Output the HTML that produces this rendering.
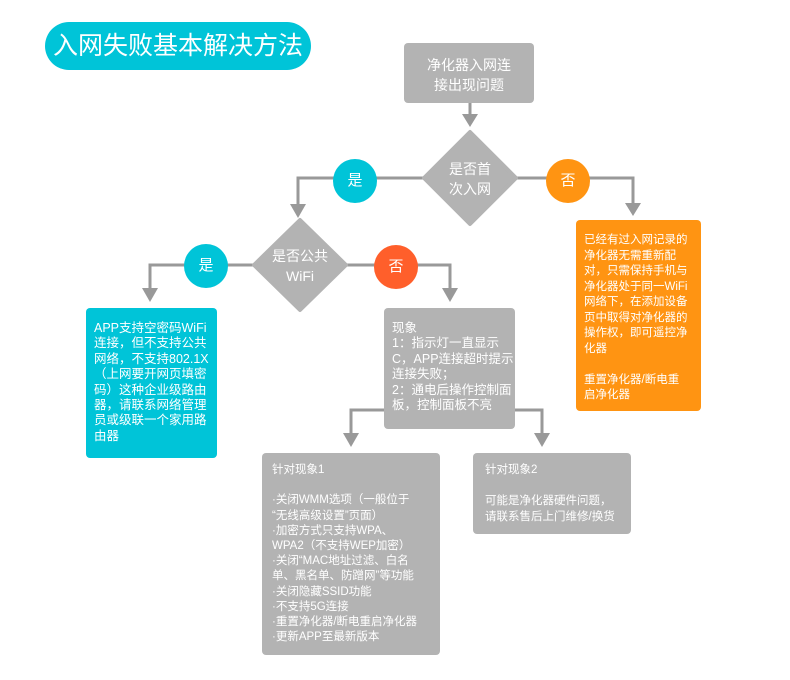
<!DOCTYPE html>
<html><head><meta charset="utf-8"><style>
body{margin:0;width:790px;height:680px;background:#fff;position:relative;overflow:hidden;font-family:"Liberation Sans","Noto Sans CJK SC",sans-serif;}
.t{position:absolute;color:#fff;font-size:12px;line-height:15.5px;white-space:nowrap;}
.c{text-align:center;}
</style></head><body>
<svg width="790" height="680" style="position:absolute;left:0;top:0">
<g fill="none" stroke="#999" stroke-width="3">
<line x1="470" y1="103" x2="470" y2="118"/>
<polyline points="298,206 298,178 633,178 633,206"/>
<polyline points="150,290 150,265 450,265 450,290"/>
<polyline points="384,410 351,410 351,435"/>
<polyline points="515,410 542,410 542,435"/>
</g>
<g fill="#999">
<polygon points="462,114 478,114 470,127"/>
<polygon points="290,204 306,204 298,218"/>
<polygon points="625,203 641,203 633,216"/>
<polygon points="142,288 158,288 150,302"/>
<polygon points="442,288 458,288 450,302"/>
<polygon points="343,433 359,433 351,447"/>
<polygon points="534,433 550,433 542,447"/>
</g>
<rect x="45" y="22" width="266" height="48" rx="24" fill="#00c4d8"/>
<rect x="404" y="43" width="130" height="60" rx="4" fill="#b3b3b3"/>
<polygon points="470,132 516,178 470,224 424,178" fill="#b3b3b3" stroke="#b3b3b3" stroke-width="4" stroke-linejoin="round"/>
<polygon points="300,220 346,265 300,310 254,265" fill="#b3b3b3" stroke="#b3b3b3" stroke-width="4" stroke-linejoin="round"/>
<circle cx="355" cy="181" r="22" fill="#00c4d8"/>
<circle cx="568" cy="181" r="22" fill="#ff9412"/>
<circle cx="206" cy="266" r="22" fill="#00c4d8"/>
<circle cx="396" cy="267" r="22" fill="#ff5f2b"/>
<rect x="86" y="308" width="131" height="150" rx="4" fill="#00c4d8"/>
<rect x="384" y="308" width="131" height="121" rx="4" fill="#b3b3b3"/>
<rect x="262" y="453" width="178" height="202" rx="4" fill="#b3b3b3"/>
<rect x="473" y="453" width="158" height="81" rx="4" fill="#b3b3b3"/>
<rect x="576" y="220" width="125" height="191" rx="4" fill="#ff9412"/>
</svg>
<div class="t c" style="left:45px;top:30px;width:266px;font-size:25px;line-height:32px;">入网失败基本解决方法</div>
<div class="t c" style="left:404px;top:55px;width:130px;font-size:14px;line-height:20px;">净化器入网连<br>接出现问题</div>
<div class="t c" style="left:424px;top:159px;width:92px;font-size:14px;line-height:20px;">是否首<br>次入网</div>
<div class="t c" style="left:254px;top:246px;width:92px;font-size:14px;line-height:20px;">是否公共<br>WiFi</div>
<div class="t c" style="left:333px;top:172px;width:44px;font-size:15px;line-height:18px;">是</div>
<div class="t c" style="left:546px;top:172px;width:44px;font-size:15px;line-height:18px;">否</div>
<div class="t c" style="left:184px;top:257px;width:44px;font-size:15px;line-height:18px;">是</div>
<div class="t c" style="left:374px;top:258px;width:44px;font-size:15px;line-height:18px;">否</div>
<div class="t" style="left:94px;top:321px;font-size:12.5px;line-height:15.4px;">APP支持空密码WiFi<br>连接，但不支持公共<br>网络，不支持802.1X<br>（上网要开网页填密<br>码）这种企业级路由<br>器，请联系网络管理<br>员或级联一个家用路<br>由器</div>
<div class="t" style="left:392px;top:321px;font-size:12.5px;line-height:15.4px;">现象<br>1：指示灯一直显示<br>C，APP连接超时提示<br>连接失败；<br>2：通电后操作控制面<br>板，控制面板不亮</div>
<div class="t" style="left:584px;top:233px;font-size:11.5px;line-height:15.5px;">已经有过入网记录的<br>净化器无需重新配<br>对，只需保持手机与<br>净化器处于同一WiFi<br>网络下，在添加设备<br>页中取得对净化器的<br>操作权，即可遥控净<br>化器<br><br>重置净化器/断电重<br>启净化器</div>
<div class="t" style="left:272px;top:463px;font-size:11.5px;line-height:15.2px;">针对现象1<br><br>·关闭WMM选项（一般位于<br>“无线高级设置”页面）<br>·加密方式只支持WPA、<br>WPA2（不支持WEP加密）<br>·关闭“MAC地址过滤、白名<br>单、黑名单、防蹭网”等功能<br>·关闭隐藏SSID功能<br>·不支持5G连接<br>·重置净化器/断电重启净化器<br>·更新APP至最新版本</div>
<div class="t" style="left:485px;top:463px;font-size:11.5px;line-height:15.5px;">针对现象2<br><br>可能是净化器硬件问题，<br>请联系售后上门维修/换货</div>
</body></html>
